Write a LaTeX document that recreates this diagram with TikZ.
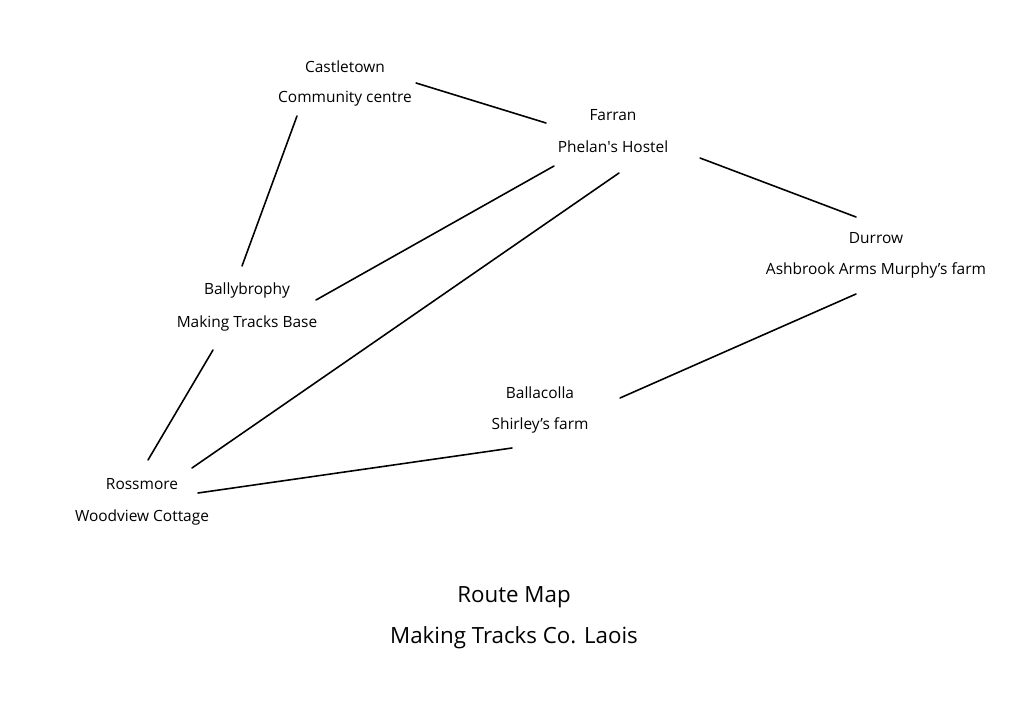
\documentclass[tikz,border=0pt]{standalone}
\usepackage{fontspec}
\setmainfont{Open Sans}
\usepackage{tikz}
\usetikzlibrary{arrows}

\begin{document}
\begin{tikzpicture}[line cap=round,line join=round,x=0.02cm,y=-0.02cm]
\tikzset{place/.style={font=\fontsize{8.8pt}{10pt}\selectfont,inner sep=0pt},
title/.style={font=\fontsize{12.7pt}{14pt}\selectfont,inner sep=0pt},
route/.style={line width=0.9pt}}
\useasboundingbox (0,0) rectangle (1024,726);
% towns and stops
\node[place] (castle) at (345,67) {Castletown};
\node[place] (castleB) at (345,99) {Community centre};
\node[place] (farran) at (613,115) {Farran};
\node[place] (farranB) at (613,147) {Phelan\textquotesingle s Hostel};
\node[place] (durrow) at (876,238) {Durrow};
\node[place] (durrowB) at (876,270) {Ashbrook Arms Murphy’s farm};
\node[place] (bally) at (247,290) {Ballybrophy};
\node[place] (ballyB) at (247,323) {Making Tracks Base};
\node[place] (colla) at (540,393) {Ballacolla};
\node[place] (collaB) at (540,425) {Shirley’s farm};
\node[place] (ross) at (142,484) {Rossmore};
\node[place] (rossB) at (142,517) {Woodview Cottage};
% title
\node[title] (map) at (514,597) {Route Map};
\node[title] (mapB) at (514,638) {Making Tracks Co. Laois};
% line ends
\coordinate (c1) at (416,83);
\coordinate (f1) at (546,123);
\coordinate (c2) at (297,116);
\coordinate (b1) at (242,266);
\coordinate (f2) at (554,166);
\coordinate (b2) at (316,300);
\coordinate (f3) at (619,173);
\coordinate (r1) at (192,468);
\coordinate (f4) at (700,158);
\coordinate (d1) at (856,217);
\coordinate (d2) at (856,294);
\coordinate (l1) at (620,398);
\coordinate (b3) at (213,350);
\coordinate (r2) at (148,460);
\coordinate (r3) at (198,493);
\coordinate (l2) at (512,448);
% routes
\draw[route] (c1) -- (f1);
\draw[route] (c2) -- (b1);
\draw[route] (f2) -- (b2);
\draw[route] (f3) -- (r1);
\draw[route] (f4) -- (d1);
\draw[route] (d2) -- (l1);
\draw[route] (b3) -- (r2);
\draw[route] (r3) -- (l2);
\end{tikzpicture}
\end{document}
